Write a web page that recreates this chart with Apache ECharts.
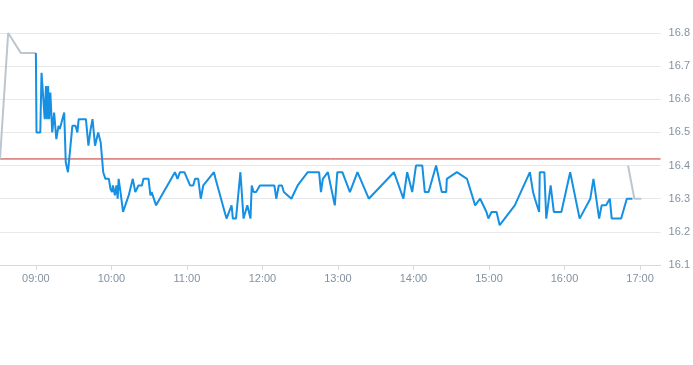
<!DOCTYPE html>
<html>
<head>
<meta charset="utf-8">
<script src="https://cdn.jsdelivr.net/npm/echarts@6/dist/echarts.min.js"></script>
<style>html,body{margin:0;padding:0;background:#fff;}#c{width:693px;height:365px;}</style>
</head>
<body>
<div id="c"></div>
<script>
var day = '2024-01-02';
var preTimes = ['08:31:30','08:38:00','08:48:00','09:00:00'];
var preValues = [16.42, 16.80, 16.74, 16.74];
var postTimes = ['16:50:30','16:55:30','17:01:00'];
var postValues = [16.40, 16.30, 16.30];
var times = [
'09:00:00','09:00:30','09:03:30','09:04:30','09:06:00','09:07:00','09:08:00','09:08:45','09:09:45','09:10:30',
'09:11:30','09:13:00','09:14:30','09:16:15','09:18:00','09:19:00','09:22:30','09:23:45','09:25:30','09:29:00',
'09:31:30','09:33:00','09:34:00','09:39:45','09:41:45','09:43:30','09:45:00','09:47:00','09:49:30','09:51:30',
'09:53:30','09:54:30','09:55:15','09:58:00','09:59:15','10:00:30','10:01:15','10:02:45','10:04:00','10:05:00',
'10:05:45','10:07:15','10:09:15','10:11:00','10:13:45','10:17:00','10:19:00','10:21:30','10:24:15','10:25:30',
'10:29:30','10:31:00','10:32:00','10:35:30','10:50:30','10:52:30','10:54:30','10:58:00','11:02:30','11:05:00',
'11:06:30','11:09:00','11:11:00','11:13:00','11:21:30','11:22:45','11:24:15','11:30:00','11:31:30','11:33:30',
'11:35:30','11:36:30','11:39:00','11:42:30','11:45:00','11:48:00','11:50:30','11:51:30','11:53:00','11:55:00',
'11:58:00','12:09:30','12:11:00','12:13:00','12:15:30','12:17:00','12:23:00','12:28:00','12:36:00','12:45:00',
'12:46:30','12:48:00','12:52:00','12:57:30','12:59:30','13:03:30','13:09:30','13:15:30','13:24:30','13:44:30',
'13:52:00','13:55:00','13:59:00','14:02:00','14:07:00','14:09:00','14:12:00','14:18:00','14:22:30','14:26:00',
'14:26:30','14:34:30','14:42:30','14:49:00','14:53:00','14:58:00','14:59:30','15:02:00','15:06:00','15:08:30',
'15:20:30','15:32:30','15:35:00','15:36:30','15:38:00','15:39:50','15:40:20','15:44:00','15:45:30','15:46:30',
'15:49:00','15:51:30','15:57:30','16:04:30','16:12:00','16:20:30','16:23:00','16:24:30','16:27:30','16:29:30',
'16:33:00','16:36:00','16:37:30','16:45:00','16:49:30','16:54:00'
];
var values = [
16.74,16.50,16.50,16.68,16.68,16.54,16.64,16.54,16.64,16.54,
16.62,16.50,16.56,16.48,16.52,16.51,16.56,16.41,16.38,16.52,
16.52,16.50,16.54,16.54,16.46,16.51,16.54,16.46,16.50,16.47,
16.38,16.38,16.36,16.36,16.33,16.32,16.34,16.31,16.34,16.30,
16.36,16.32,16.26,16.28,16.31,16.36,16.32,16.34,16.34,16.36,
16.36,16.31,16.32,16.28,16.38,16.36,16.38,16.38,16.34,16.34,
16.36,16.36,16.30,16.34,16.38,16.36,16.36,16.26,16.24,16.26,
16.28,16.24,16.24,16.38,16.24,16.28,16.24,16.34,16.32,16.32,
16.34,16.34,16.30,16.34,16.34,16.32,16.30,16.34,16.38,16.38,
16.32,16.36,16.38,16.28,16.38,16.38,16.32,16.38,16.30,16.38,
16.30,16.38,16.32,16.40,16.40,16.32,16.32,16.40,16.32,16.32,
16.36,16.38,16.36,16.28,16.30,16.26,16.24,16.26,16.26,16.22,
16.28,16.38,16.32,16.30,16.30,16.26,16.38,16.38,16.24,16.24,
16.34,16.26,16.26,16.38,16.24,16.30,16.36,16.32,16.24,16.28,
16.28,16.30,16.24,16.24,16.30,16.30
];
var prevClose = 16.42;
var tickLabels = ['09:00','10:00','11:00','12:00','13:00','14:00','15:00','16:00','17:00'];
var axisStart = '08:31:30';
var axisEnd = '17:16:20';

function ts(t){ return echarts.time.parse(day + ' ' + t).getTime(); }
function pairs(ta, va){ return ta.map(function(t,i){ return [ts(t), va[i]]; }); }
var tickValues = tickLabels.map(function(t){ return ts(t + ':00'); });

var chart = echarts.init(document.getElementById('c'), null, {renderer:'canvas'});
var labelColor = '#8392a1';
chart.setOption({
  animation: false,
  grid: {left: 0, right: 28, top: 33, bottom: 100, containLabel: false},
  xAxis: {
    type: 'value',
    min: ts(axisStart),
    max: ts(axisEnd),
    axisLine: {show: true, lineStyle: {color: '#d6d9dd', width: 1}},
    axisTick: {show: true, length: 5, lineStyle: {color: '#d6d9dd'}, customValues: tickValues},
    axisLabel: {
      color: labelColor, fontSize: 11, margin: 8,
      customValues: tickValues,
      formatter: function(v){ return echarts.time.format(v, '{HH}:{mm}', false); }
    },
    splitLine: {show: false}
  },
  yAxis: {
    type: 'value',
    position: 'right',
    min: 16.1, max: 16.8, interval: 0.1,
    axisLine: {show: false},
    axisTick: {show: false},
    axisLabel: {color: labelColor, fontSize: 11, margin: 8,
      formatter: function(v){ return (Math.round(v*10)/10).toFixed(1); }},
    splitLine: {show: true, lineStyle: {color: '#e6e8eb', width: 1}}
  },
  series: [
    {type: 'line', data: [[ts(axisStart), prevClose], [ts(axisEnd), prevClose]],
     showSymbol: false, symbol: 'none', silent: true,
     lineStyle: {color: '#c0302b', width: 1}, z: 1},
    {type: 'line', data: pairs(preTimes, preValues), showSymbol: false, symbol: 'none',
     lineStyle: {color: '#bcc6cf', width: 2}, z: 2},
    {type: 'line', data: pairs(postTimes, postValues), showSymbol: false, symbol: 'none',
     lineStyle: {color: '#bcc6cf', width: 2}, z: 2},
    {type: 'line', data: pairs(times, values), showSymbol: false, symbol: 'none',
     lineStyle: {color: '#1590e2', width: 2}, z: 3}
  ]
});
</script>
</body>
</html>
